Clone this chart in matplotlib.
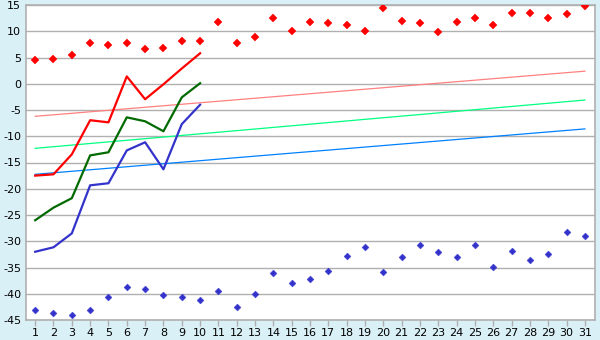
import numpy as np
import matplotlib.pyplot as plt

plt.rcParams["axes.unicode_minus"] = False

# napok
days = list(range(1, 32))
line_days = list(range(1, 11))

# vonalak (1-10. nap)
red_line = [-17.5, -17.25, -13.45, -6.95, -7.35, 1.4, -2.95, -0.1, 2.9, 5.8]
green_line = [-26.0, -23.6, -21.8, -13.65, -13.05, -6.4, -7.15, -9.05, -2.6, 0.1]
blue_line = [-32.0, -31.15, -28.5, -19.35, -18.95, -12.7, -11.15, -16.3, -7.7, -4.0]

# pontok (1-31. nap)
red_pts = [4.45, 4.65, 5.4, 7.7, 7.3, 7.7, 6.55, 6.9, 8.1, 8.1,
           11.7, 7.7, 8.85, 12.45, 10.0, 11.7, 11.5, 11.1, 10.0, 14.35,
           11.9, 11.5, 9.8, 11.7, 12.45, 11.1, 13.4, 13.4, 12.45, 13.2, 14.9]
blue_pts = [-43.15, -43.7, -44.1, -43.15, -40.7, -38.8, -39.15, -40.3, -40.7, -41.25,
            -39.5, -42.6, -40.1, -36.1, -38.0, -37.25, -35.7, -32.9, -31.15, -35.9,
            -33.05, -30.8, -32.1, -33.05, -30.8, -34.95, -31.9, -33.6, -32.5, -28.3, -29.05]

# trendvonalak (kezdő és végpont)
trend_days = [1, 31]
pink_trend = [-6.2, 2.4]
mint_trend = [-12.3, -3.1]
sky_trend = [-17.25, -8.6]

bg = "#daf0f7"
grid_c = "#b0b0b0"

fig = plt.figure(figsize=(6, 3.4), dpi=100, facecolor=bg)
ax = fig.add_axes([26/600, 1-320/340, (595-26)/600, 315/340])
ax.set_facecolor("white")

ax.plot(trend_days, pink_trend, color="#ff8080", lw=0.9, zorder=2)
ax.plot(trend_days, mint_trend, color="#00ff80", lw=0.9, zorder=2)
ax.plot(trend_days, sky_trend, color="#0080ff", lw=0.9, zorder=2)

ax.plot(line_days, red_line, color="#ff0000", lw=1.6, zorder=3)
ax.plot(line_days, green_line, color="#006a00", lw=1.6, zorder=3)
ax.plot(line_days, blue_line, color="#3333cc", lw=1.6, zorder=3)

ax.plot(days, red_pts, "D", color="#ff0000", ms=4.0, mew=0.3, ls="none", zorder=4)
ax.plot(days, blue_pts, "D", color="#3333cc", ms=3.5, mew=0.3, ls="none", zorder=4)

ax.set_xlim(0.5, 31.55)
ax.set_ylim(-45, 15)
ax.set_yticks(range(-45, 16, 5))
ax.set_xticks(days)
ax.grid(axis="y", color=grid_c, lw=1.0, zorder=1)
for s in ["left", "bottom", "right", "top"]:
    ax.spines[s].set_color(grid_c)
    ax.spines[s].set_linewidth(1.2)
ax.tick_params(axis="y", length=0, pad=3.5, labelsize=8)
ax.tick_params(axis="x", length=4, color=grid_c, width=1.0, pad=1.5, labelsize=8)

plt.savefig("out.png", facecolor=bg)
